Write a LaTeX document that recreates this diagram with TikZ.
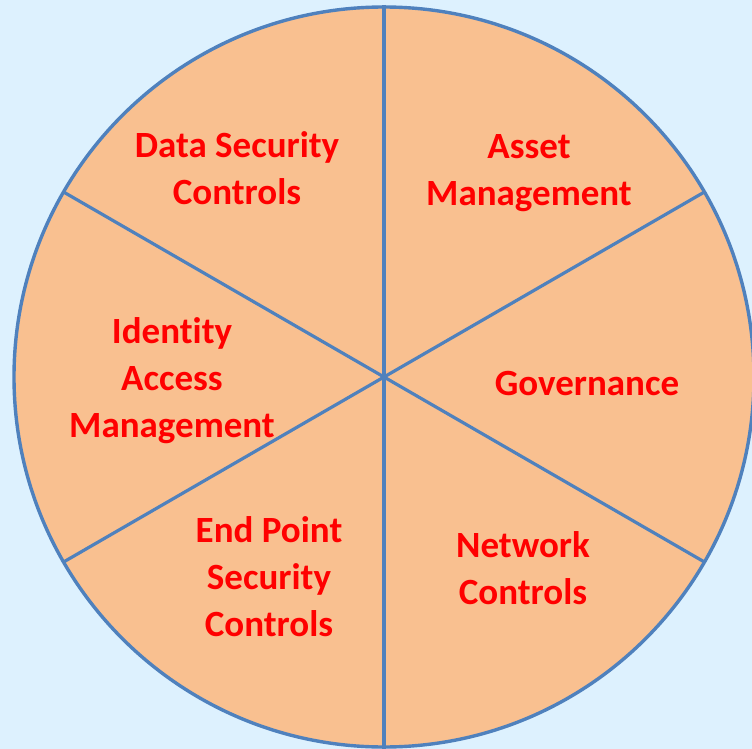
\documentclass[tikz,border=0pt]{standalone}
\usepackage{fontspec}
\usetikzlibrary{calc}
\setmainfont[Ligatures={NoCommon}]{Carlito}
\definecolor{bgblue}{HTML}{DDF1FE}
\definecolor{segfill}{HTML}{F9C090}
\definecolor{rimblue}{HTML}{4F81BD}
\definecolor{labred}{HTML}{FF0000}
\tikzset{
  rim/.style={draw=rimblue, line width=3.4pt},
  spoke/.style={draw=rimblue, line width=3.2pt},
  lab/.style={text=labred, font=\fontsize{37}{47}\selectfont\bfseries, align=center, inner sep=0pt}
}
\begin{document}
\begin{tikzpicture}[x=1pt,y=-1pt]
\fill[bgblue] (0,0) rectangle (752,749);
\useasboundingbox (0,0) rectangle (752,749);
\coordinate (c) at (384,377);
\fill[segfill] (c) circle[radius=370];
\coordinate (t) at ($(c)+(0,-372)$);
\coordinate (b) at ($(c)+(0,372)$);
\coordinate (ur) at ($(c)+(-30:370)$);
\coordinate (ul) at ($(c)+(-150:370)$);
\coordinate (lr) at ($(c)+(30:370)$);
\coordinate (ll) at ($(c)+(150:370)$);
\draw[spoke] (t) -- (b);
\draw[spoke] (ul) -- (lr);
\draw[spoke] (ur) -- (ll);
\draw[rim] (c) circle[radius=370];
\node[lab] (ds) at (237,168) {Data Security\\Controls};
\node[lab] (am) at (529,173) {Asset\\Management};
\node[lab] (gov) at (587,384) {Governance};
\node[lab] (iam) at (172,381) {Identity\\Access\\Management};
\node[lab] (ep) at (269,577) {End Point\\Security\\Controls};
\node[lab] (nc) at (523,568) {Network\\Controls};
\end{tikzpicture}
\end{document}
